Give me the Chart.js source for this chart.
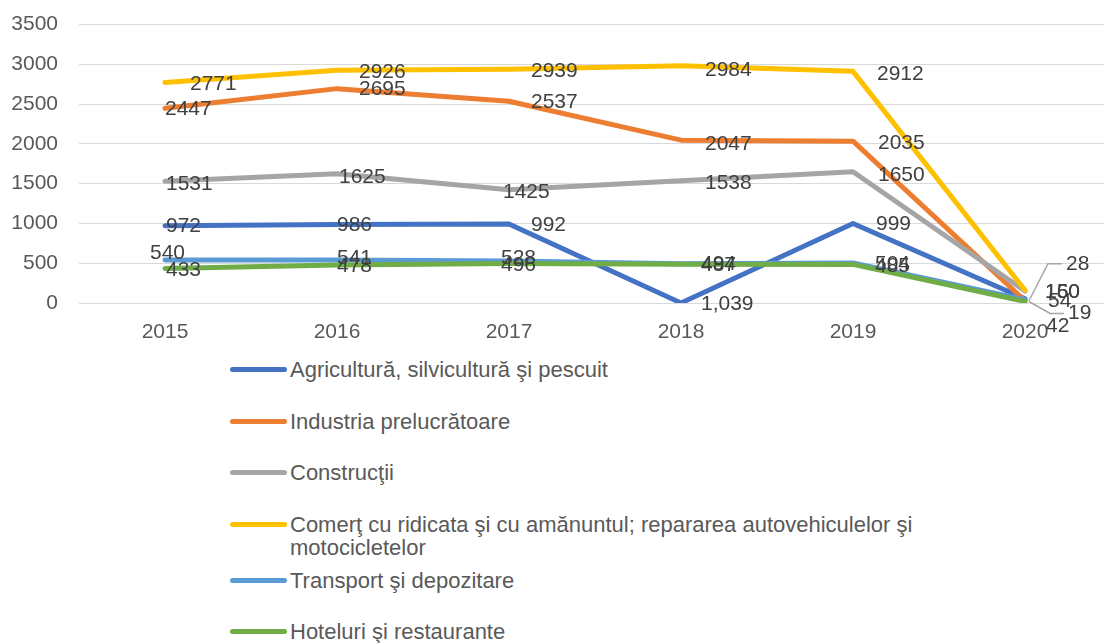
<!DOCTYPE html>
<html>
<head>
<meta charset="utf-8">
<script src="https://cdn.jsdelivr.net/npm/chart.js@4"></script>
<style>
  body { margin: 0; width: 1104px; height: 643px; overflow: hidden; background: #fff; position: relative; }
  #chart { position: absolute; left: 0; top: -9px; }
  #legend { position: absolute; left: 230px; top: 358px; font-family: "Liberation Sans", Arial, sans-serif; font-size: 22px; color: #595959; }
  .item { display: flex; align-items: flex-start; margin-bottom: 28.5px; }
  .item.wide { margin-bottom: 10px; }
  .swatch { width: 57px; height: 5px; border-radius: 3px; margin-top: 9px; margin-right: 3px; flex: none; }
  .text { line-height: 23px; max-width: 650px; }
</style>
</head>
<body>
<canvas id="chart" width="1120" height="359"></canvas>
<div id="legend"></div>
<script>
const years = ['2015', '2016', '2017', '2018', '2019', '2020'];
const seriesNames = [
  'Agricultură, silvicultură şi pescuit',
  'Industria prelucrătoare',
  'Construcţii',
  'Comerţ cu ridicata şi cu amănuntul; repararea autovehiculelor şi motocicletelor',
  'Transport şi depozitare',
  'Hoteluri şi restaurante'
];
const agricultura = [972, 986, 992, 1.039, 999, 54];
const industria = [2447, 2695, 2537, 2047, 2035, 28];
const constructii = [1531, 1625, 1425, 1538, 1650, 150];
const comert = [2771, 2926, 2939, 2984, 2912, 160];
const transport = [540, 541, 528, 494, 504, 42];
const hoteluri = [433, 478, 496, 487, 485, 19];
const yTicks = [0, 500, 1000, 1500, 2000, 2500, 3000, 3500];

const colors = ['#4472C4', '#ED7D31', '#A5A5A5', '#FFC000', '#5B9BD5', '#70AD47'];
const series = [agricultura, industria, constructii, comert, transport, hoteluri];

// label placement relative to each point: [dx, dy]
const labelShift = [
  [[1, 1], [0, 1], [22, 1], [20, 1], [23, 1], [23, 2]],
  [[0, 1], [22, 1], [22, 1], [24, 4], [25, 2], [41, -37]],
  [[1, 3], [2, 3], [-6, 3], [24, 3], [25, 3], [20, 1]],
  [[25, 2], [22, 2], [22, 2], [24, 5], [24, 3], [20, 2]],
  [[-15, -7], [0, -2], [-8, -3], [20, 0], [22, 1], [21, 27]],
  [[1, 2], [0, 1], [-8, 2], [20, 1], [22, 2], [43, 12]]
];
const leaders = [[1, 5], [5, 5]];

function fmt(v) {
  return Number.isInteger(v) ? String(v) : v.toFixed(3).replace('.', ',');
}

const valueLabels = {
  id: 'valueLabels',
  afterDatasetsDraw(chart) {
    const ctx = chart.ctx;
    ctx.save();
    ctx.font = '21px "Liberation Sans", Arial, sans-serif';
    ctx.textBaseline = 'middle';
    ctx.textAlign = 'left';
    chart.data.datasets.forEach((ds, i) => {
      chart.getDatasetMeta(i).data.forEach((pt, j) => {
        const [dx, dy] = labelShift[i][j];
        const x = pt.x + dx, y = pt.y + dy;
        if (leaders.some(l => l[0] === i && l[1] === j)) {
          ctx.strokeStyle = '#A6A6A6';
          ctx.lineWidth = 1.5;
          ctx.beginPath();
          ctx.moveTo(pt.x + 4, pt.y);
          ctx.lineTo(x - 18, y);
          ctx.lineTo(x - 4, y);
          ctx.stroke();
        }
        ctx.fillStyle = '#404040';
        ctx.fillText(fmt(ds.data[j]), x, y);
      });
    });
    ctx.restore();
  }
};

new Chart(document.getElementById('chart'), {
  type: 'line',
  data: {
    labels: years,
    datasets: series.map((d, i) => ({
      label: seriesNames[i],
      data: d,
      borderColor: colors[i],
      backgroundColor: colors[i],
      borderWidth: 5,
      borderCapStyle: 'round',
      borderJoinStyle: 'round',
      pointRadius: 0,
      tension: 0,
      order: series.length - i
    }))
  },
  options: {
    responsive: false,
    animation: false,
    layout: { padding: { top: 15, right: 9, left: 0, bottom: 0 } },
    plugins: { legend: { display: false }, tooltip: { enabled: false } },
    scales: {
      x: {
        offset: true,
        grid: { display: false, drawTicks: false },
        border: { display: false },
        ticks: { color: '#595959', font: { family: '"Liberation Sans", Arial, sans-serif', size: 21 }, padding: 17, maxRotation: 0 },
        afterFit(scale) { scale.height = 47; }
      },
      y: {
        min: 0,
        max: 3500,
        afterBuildTicks(scale) { scale.ticks = yTicks.map(v => ({ value: v })); },
        grid: { color: '#D9D9D9', lineWidth: 1, drawTicks: false },
        border: { display: false },
        ticks: {
          color: '#595959',
          font: { family: '"Liberation Sans", Arial, sans-serif', size: 21 },
          padding: 21,
          callback: v => String(v)
        },
        afterFit(scale) { scale.width = 79; }
      }
    }
  },
  plugins: [valueLabels]
});

// vertical legend under the plot
const legend = document.getElementById('legend');
seriesNames.forEach((name, i) => {
  const item = document.createElement('div');
  item.className = 'item' + (i === 3 ? ' wide' : '');
  item.innerHTML = '<span class="swatch" style="background:' + colors[i] + '"></span><span class="text"></span>';
  item.querySelector('.text').textContent = name;
  legend.appendChild(item);
});
</script>
</body>
</html>
